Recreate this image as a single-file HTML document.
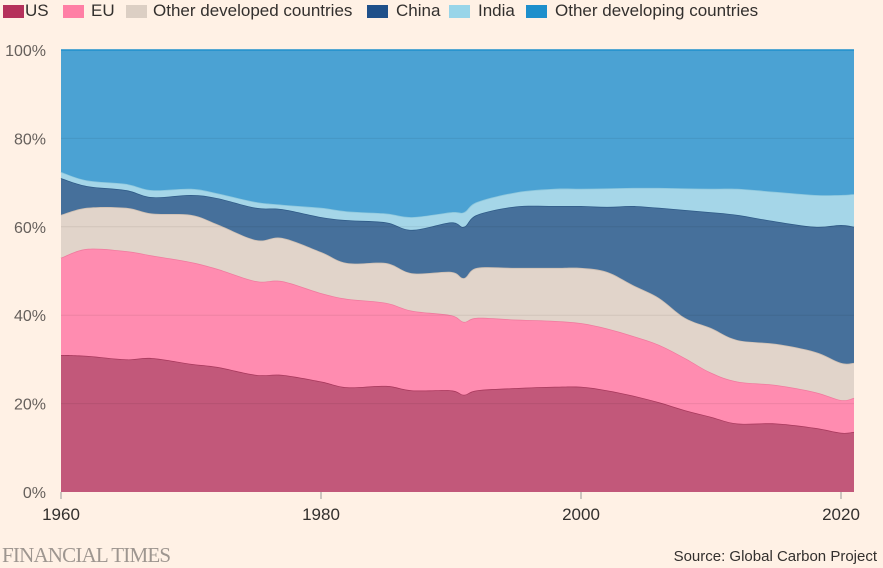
<!DOCTYPE html>
<html><head><meta charset="utf-8">
<style>
body{margin:0;background:#fff1e5;font-family:"Liberation Sans",sans-serif;}
#wrap{position:relative;width:883px;height:568px;overflow:hidden;}
.le{position:absolute;top:1px;font-size:17px;color:#33302e;white-space:nowrap;line-height:20px}
.sw{position:absolute;top:4px;width:21px;height:13px}
</style></head><body>
<div id="wrap">
<div>
<div class="le" style="left:0"><span class="sw" style="left:3px;background:#b5315b"></span><span style="margin-left:25px">US</span></div>
<div class="le" style="left:60px"><span class="sw" style="left:3px;background:#ff7fa5"></span><span style="margin-left:31px">EU</span></div>
<div class="le" style="left:123px"><span class="sw" style="left:3px;background:#dccfc4"></span><span style="margin-left:30px">Other developed countries</span></div>
<div class="le" style="left:364px"><span class="sw" style="left:3px;background:#1f508a"></span><span style="margin-left:32px">China</span></div>
<div class="le" style="left:446px"><span class="sw" style="left:3px;background:#99d5e9"></span><span style="margin-left:32px">India</span></div>
<div class="le" style="left:523px"><span class="sw" style="left:3px;background:#1e8fcc"></span><span style="margin-left:32px">Other developing countries</span></div>
</div>
<svg id="svg" width="883" height="568" style="position:absolute;left:0;top:0"></svg>
<div style="position:absolute;left:2px;top:543px;font-family:'Liberation Serif',serif;font-size:21px;color:#9e9690;letter-spacing:-0.8px">FINANCIAL TIMES</div>
<div style="position:absolute;right:6px;top:548px;font-size:15px;color:#33302e">Source: Global Carbon Project</div>
</div>
<script>
const years=[1960,1962,1965,1967,1970,1972,1975,1977,1980,1982,1985,1987,1990,1991,1992,1995,1998,2000,2002,2004,2006,2008,2010,2012,2015,2018,2020,2021];
const usShare=[31,30.8,30,30.3,29,28.3,26.5,26.5,25,23.7,24,23,23,22,23,23.5,23.8,23.8,23,21.8,20.3,18.5,17,15.5,15.5,14.5,13.4,13.6];
const euShare=[22,24.2,24.5,23.2,23,22.2,21.2,21.2,20,20,18.8,18,17,16.5,16.4,15.5,14.9,14.4,14,13.5,13,11.8,10,9.5,8.7,8.1,7.4,7.7];
const otherDevShare=[9.7,9.3,9.8,9.5,10.7,10.1,9.3,9.8,9.3,8.1,9,8.5,9.8,9.9,11.3,11.7,12,12.5,12.8,11.5,10.6,9.1,10.1,9.4,9.3,9.1,8.4,7.9];
const chinaShare=[8.3,4.9,4,3.7,4.5,5.9,7.3,6.5,7.9,9.7,9.2,9.8,11.2,11.6,12,13.9,14,14,14.7,17.9,20.4,24.4,26.2,28.3,27.7,28.3,31.2,30.8];
const indiaShare=[1.4,1.3,1.4,1.6,1.4,1.1,1.3,1,2.1,2,2,2.9,2.3,3.3,2.9,3.2,3.9,3.9,4.2,4.1,4.5,4.9,5.3,5.9,6.7,7.2,6.8,7.4];
const yTicks=[0,20,40,60,80,100];
const xTicks=[1960,1980,2000,2020];
const seriesNames=["us","eu","other-developed","china","india","other-developing"];
const fills=["#c2587a","#ff8cb0","#e1d4ca","#46709b","#a5d6e8","#4ba2d3"];
const strokes=["#a8385c","#f07a9e","#cdbfb3","#2e5a87","#8cc7dd","#1e8fcc"];

const NS="http://www.w3.org/2000/svg";
const svg=document.getElementById('svg');
const x=v=>61+(v-1960)*13;
const y=v=>492-v*4.42;
const otherDev=usShare.map((u,i)=>100-u-euShare[i]-otherDevShare[i]-chinaShare[i]-indiaShare[i]);
const shares=[usShare,euShare,otherDevShare,chinaShare,indiaShare,otherDev];
const cum=[];let run=years.map(()=>0);
shares.forEach(s=>{const lo=run.slice();run=run.map((r,i)=>r+s[i]);cum.push({lo,hi:run.slice()});});
function smooth(pts){let d=`${pts[0][0]},${pts[0][1]}`;
 for(let i=0;i<pts.length-1;i++){const p0=pts[i-1]||pts[i],p1=pts[i],p2=pts[i+1],p3=pts[i+2]||p2;
  const c1=[p1[0]+(p2[0]-p0[0])/6,p1[1]+(p2[1]-p0[1])/6],c2=[p2[0]-(p3[0]-p1[0])/6,p2[1]-(p3[1]-p1[1])/6];
  d+=` C${c1[0]},${c1[1]} ${c2[0]},${c2[1]} ${p2[0]},${p2[1]}`;}return d;}
function mk(tag,attrs){const e=document.createElementNS(NS,tag);for(const k in attrs)e.setAttribute(k,attrs[k]);svg.appendChild(e);return e;}
cum.forEach((c,k)=>{
 const top=years.map((yr,i)=>[x(yr),y(c.hi[i])]);
 const bot=years.map((yr,i)=>[x(yr),y(c.lo[i])]).reverse();
 const d="M"+smooth(top)+" L"+smooth(bot)+" Z";
 const a=mk('path',{d,fill:fills[k],stroke:'none'});
 
 
 const l=mk('path',{d:"M"+smooth(top),fill:'none',stroke:strokes[k],'stroke-width':1.5});
 
 
});
yTicks.forEach(t=>{
 if(t>0&&t<100){const g=mk('line',{x1:61,x2:854,y1:y(t),y2:y(t),stroke:'#000','stroke-opacity':0.07,'stroke-width':1});
 
 }
 const tx=mk('text',{x:46,y:y(t)+6,'text-anchor':'end','font-size':16,fill:'#66605c','font-family':'Liberation Sans'});
 tx.textContent=t+'%';
 
 
});
xTicks.forEach(t=>{
 const g=mk('line',{x1:x(t),x2:x(t),y1:492,y2:499,stroke:'#999','stroke-width':1});
 
 
 const tx=mk('text',{x:x(t),y:520,'text-anchor':'middle','font-size':17,fill:'#33302e','font-family':'Liberation Sans'});
 tx.textContent=t;
 
 
});
</script>
</body></html>
